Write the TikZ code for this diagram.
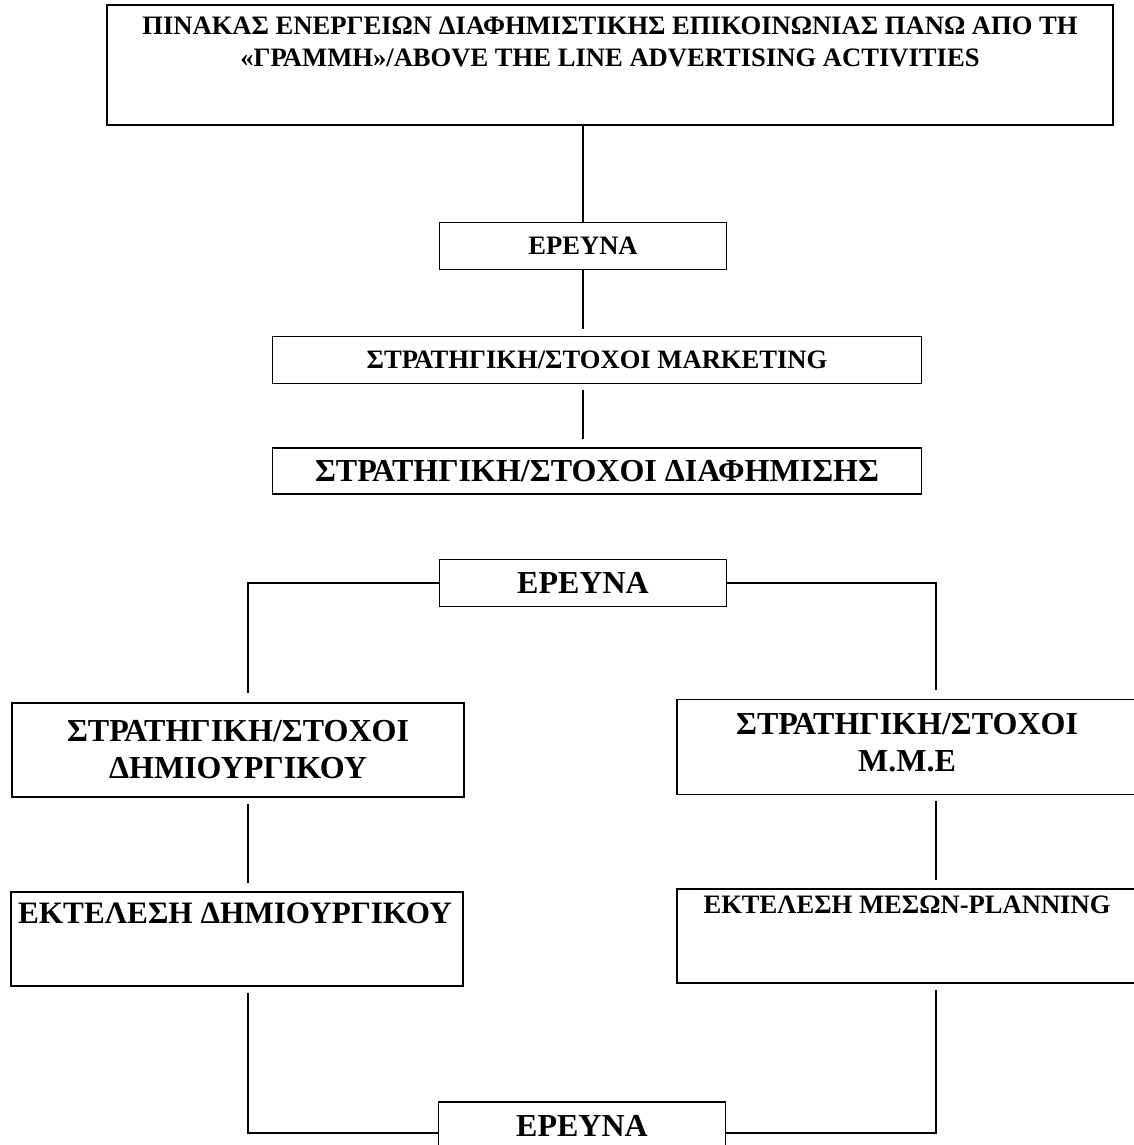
\documentclass[tikz,border=0pt]{standalone}
\usepackage{fontspec}
\setmainfont{Liberation Serif}
\usetikzlibrary{positioning,calc}

\tikzset{
  box/.style={draw, line width=1.8pt, inner sep=0pt},
  smalltxt/.style={font=\bfseries\fontsize{26.6}{32}\selectfont, align=center},
  bigtxt/.style={font=\bfseries\fontsize{32}{37}\selectfont, align=center},
  link/.style={line width=1.3pt},
  gapped/.style={shorten <=6pt, shorten >=8pt},
}

\begin{document}
\begin{tikzpicture}[x=1pt, y=-1pt]
\useasboundingbox (0,0) rectangle (1134,1145);

% upper column
\node[box, minimum width=1006pt, minimum height=120pt] (head) at (610,65) {};
\node[smalltxt] (headtxt) at (610,42) {ΠΙΝΑΚΑΣ ΕΝΕΡΓΕΙΩΝ ΔΙΑΦΗΜΙΣΤΙΚΗΣ ΕΠΙΚΟΙΝΩΝΙΑΣ ΠΑΝΩ ΑΠΟ ΤΗ\\«ΓΡΑΜΜΗ»/ABOVE THE LINE ADVERTISING ACTIVITIES};
\node[box, smalltxt, minimum width=287pt, minimum height=47pt] (res1) at (583,246) {ΕΡΕΥΝΑ};
\node[box, smalltxt, minimum width=649pt, minimum height=47pt] (mkt) at (597,360) {ΣΤΡΑΤΗΓΙΚΗ/ΣΤΟΧΟΙ MARKETING};
\node[box, bigtxt, minimum width=649pt, minimum height=46pt] (adv) at (597,471) {ΣΤΡΑΤΗΓΙΚΗ/ΣΤΟΧΟΙ ΔΙΑΦΗΜΙΣΗΣ};

% two branches
\node[box, bigtxt, minimum width=287pt, minimum height=47pt] (res2) at (583,583) {ΕΡΕΥΝΑ};
\node[box, bigtxt, minimum width=452pt, minimum height=94pt] (crea) at (238,750) {ΣΤΡΑΤΗΓΙΚΗ/ΣΤΟΧΟΙ\\ΔΗΜΙΟΥΡΓΙΚΟΥ};
\node[box, minimum width=460pt, minimum height=95pt] (media) at (907,747) {};
\node[bigtxt] (mediatxt) at (907,743) {ΣΤΡΑΤΗΓΙΚΗ/ΣΤΟΧΟΙ\\Μ.Μ.Ε};
\node[box, minimum width=452pt, minimum height=94pt] (creaex) at (237,939) {};
\node[bigtxt, font=\bfseries\fontsize{31.2}{37}\selectfont] (creaextxt) at (235,913) {ΕΚΤΕΛΕΣΗ ΔΗΜΙΟΥΡΓΙΚΟΥ};
\node[box, minimum width=460pt, minimum height=94pt] (mediaex) at (907,936) {};
\node[smalltxt] (mediaextxt) at (907,905) {ΕΚΤΕΛΕΣΗ ΜΕΣΩΝ-PLANNING};
\node[box, bigtxt, minimum width=287pt, minimum height=48pt] (res3) at (582,1126) {ΕΡΕΥΝΑ};

\coordinate (lcol) at (248,0);
\coordinate (rcol) at (936,0);

% connectors
\draw[link] (head.south -| res1) -- (res1.north);
\draw[link, shorten >=7pt] (res1.south) -- (res1.south |- mkt.north);
\draw[link, gapped] (res1.south |- mkt.south) -- (res1.south |- adv.north);
\draw[link, shorten >=9pt] (res2.west) -| (lcol |- crea.north);
\draw[link, shorten >=9pt] (res2.east) -| (rcol |- media.north);
\draw[link, gapped] (lcol |- crea.south) -- (lcol |- creaex.north);
\draw[link, gapped] (rcol |- media.south) -- (rcol |- mediaex.north);
\draw[link, shorten <=6pt] (lcol |- creaex.south) |- ([yshift=-7pt]res3.west);
\draw[link, shorten <=6pt] (rcol |- mediaex.south) |- ([yshift=-7pt]res3.east);
\end{tikzpicture}
\end{document}
